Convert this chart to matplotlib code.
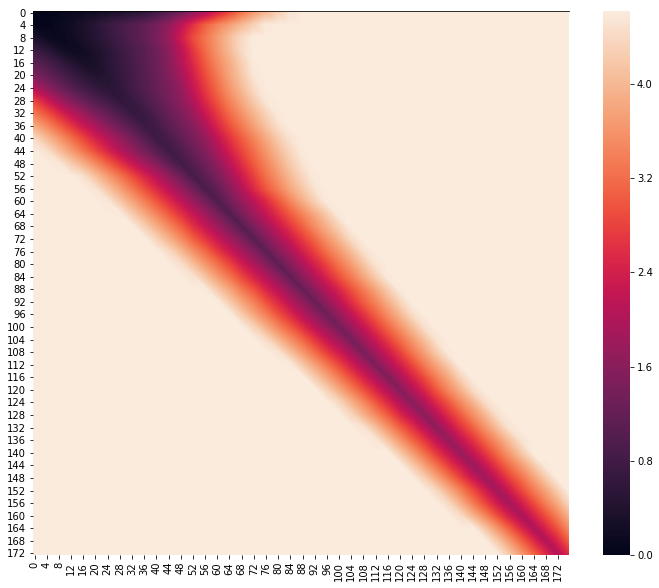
import numpy as np
import matplotlib
matplotlib.use('Agg')
import matplotlib.pyplot as plt
import matplotlib.tri as mtri
from matplotlib.cm import ScalarMappable
from matplotlib.colors import Normalize
import seaborn as sns

# values on a coarse grid: every 4th row, every 4th column
# anything outside a row's listed stretch is saturated
S = 4.62
n_rows = 173
n_cols = 176
row_labels = list(range(0, 173, 4))
col_labels = list(range(0, 173, 4))

# first listed column of each row (in columns)
band_start = [0, 0, 0, 0, 0, 0, 0, 0, 0, 0, 0, 0,
              8, 16, 20, 24, 28, 36, 40, 44, 48, 52, 56, 64, 68, 72, 76, 80, 84, 92,
              96, 100, 104, 108, 112, 120, 124, 128, 132, 136, 140, 148, 152, 156]
# rows 0, 4, 8, ... 172
band_values = [
    [.02, .03, .05, .08, .12, .16, .22, .3, .38, .5, .7, .9, 1.15, 1.5, 1.85, 2.3, 2.7, 3.15, 3.55, 3.9, 4.25, 4.5],
    [.02, .05, .1, .2, .33, .48, .68, .85, 1.0, 1.15, 1.35, 1.65, 2.1, 2.6, 3.05, 3.4, 3.7, 4.0, 4.3, 4.6],
    [.35, .15, .1, .17, .3, .45, .62, .8, .97, 1.15, 1.4, 1.72, 2.3, 2.85, 3.25, 3.65, 4.05, 4.4],
    [.75, .5, .28, .17, .2, .33, .5, .7, .88, 1.07, 1.3, 1.6, 2.1, 2.65, 3.15, 3.6, 4.0, 4.4],
    [1.1, .88, .65, .42, .28, .3, .48, .65, .85, 1.05, 1.27, 1.55, 2.0, 2.5, 3.0, 3.45, 3.85, 4.25, 4.6],
    [1.45, 1.2, .95, .72, .52, .4, .45, .62, .82, 1.02, 1.25, 1.5, 1.85, 2.35, 2.85, 3.3, 3.75, 4.15, 4.55],
    [2.05, 1.6, 1.28, 1.0, .8, .62, .5, .58, .78, .98, 1.2, 1.42, 1.7, 2.2, 2.7, 3.15, 3.6, 4.0, 4.4],
    [2.8, 2.3, 1.85, 1.5, 1.2, .95, .75, .58, .65, .87, 1.1, 1.35, 1.6, 2.0, 2.5, 2.95, 3.4, 3.8, 4.2, 4.55],
    [3.3, 2.9, 2.5, 2.1, 1.75, 1.4, 1.15, .88, .65, .7, .95, 1.2, 1.45, 1.75, 2.25, 2.7, 3.15, 3.55, 3.95, 4.3, 4.6],
    [3.85, 3.45, 3.05, 2.65, 2.25, 1.9, 1.55, 1.25, .97, .72, .78, 1.05, 1.3, 1.55, 1.95, 2.45, 2.9, 3.3, 3.7, 4.1, 4.45],
    [4.4, 4.0, 3.6, 3.2, 2.8, 2.4, 2.05, 1.7, 1.35, 1.03, .74, .85, 1.12, 1.4, 1.7, 2.15, 2.6, 3.0, 3.4, 3.8, 4.2, 4.5],
    [4.62, 4.45, 4.05, 3.65, 3.25, 2.85, 2.45, 2.05, 1.7, 1.35, 1.03, .76, .92, 1.2, 1.5, 1.9, 2.35, 2.8, 3.2, 3.6, 4.0, 4.35, 4.6],
    [4.55, 4.2, 3.85, 3.45, 3.05, 2.65, 2.25, 1.85, 1.5, 1.1, .8, 1.0, 1.3, 1.65, 2.1, 2.55, 3.0, 3.4, 3.8, 4.2, 4.5],
    [4.45, 4.05, 3.65, 3.25, 2.85, 2.45, 2.05, 1.65, 1.25, .84, 1.08, 1.4, 1.8, 2.3, 2.75, 3.2, 3.6, 4.0, 4.35, 4.6],
    [4.5, 4.1, 3.7, 3.3, 2.9, 2.5, 2.1, 1.7, 1.3, .88, 1.15, 1.55, 2.0, 2.5, 2.95, 3.35, 3.8, 4.15, 4.5],
    [4.55, 4.15, 3.75, 3.35, 2.95, 2.55, 2.15, 1.75, 1.35, .92, 1.3, 1.7, 2.1, 2.5, 2.95, 3.4, 3.85, 4.25, 4.6],
    [4.6, 4.2, 3.8, 3.4, 3.0, 2.6, 2.2, 1.8, 1.38, .96, 1.37, 1.78, 2.2, 2.6, 3.0, 3.4, 3.8, 4.2, 4.6],
    [4.25, 3.85, 3.45, 3.05, 2.6, 2.2, 1.8, 1.4, 1.0, 1.42, 1.83, 2.25, 2.65, 3.05, 3.5, 3.9, 4.3],
    [4.3, 3.9, 3.5, 3.05, 2.65, 2.25, 1.85, 1.45, 1.03, 1.45, 1.87, 2.28, 2.7, 3.1, 3.55, 3.95, 4.4],
    [4.4, 4.0, 3.55, 3.15, 2.7, 2.3, 1.9, 1.5, 1.07, 1.5, 1.9, 2.35, 2.75, 3.2, 3.6, 4.0, 4.45],
    [4.45, 4.05, 3.6, 3.2, 2.8, 2.35, 1.95, 1.52, 1.1, 1.53, 1.95, 2.4, 2.8, 3.25, 3.65, 4.1, 4.5],
    [4.5, 4.1, 3.65, 3.25, 2.8, 2.4, 2.0, 1.56, 1.14, 1.58, 2.0, 2.45, 2.9, 3.3, 3.75, 4.2, 4.6],
    [4.6, 4.15, 3.75, 3.3, 2.9, 2.45, 2.05, 1.6, 1.18, 1.6, 2.05, 2.45, 2.9, 3.3, 3.75, 4.2, 4.6],
    [4.2, 3.75, 3.35, 2.9, 2.5, 2.05, 1.65, 1.22, 1.66, 2.1, 2.55, 3.0, 3.4, 3.85, 4.3],
    [4.2, 3.75, 3.35, 2.9, 2.5, 2.05, 1.65, 1.26, 1.7, 2.15, 2.6, 3.05, 3.5, 3.95, 4.4],
    [4.3, 3.85, 3.4, 3.0, 2.55, 2.1, 1.7, 1.3, 1.75, 2.2, 2.65, 3.1, 3.55, 4.0, 4.45],
    [4.4, 3.95, 3.5, 3.1, 2.65, 2.2, 1.8, 1.34, 1.8, 2.25, 2.7, 3.15, 3.6, 4.05, 4.5],
    [4.5, 4.05, 3.6, 3.15, 2.7, 2.3, 1.85, 1.38, 1.85, 2.3, 2.75, 3.25, 3.7, 4.2, 4.6],
    [4.6, 4.15, 3.7, 3.25, 2.8, 2.35, 1.9, 1.42, 1.9, 2.35, 2.8, 3.3, 3.75, 4.2],
    [4.2, 3.75, 3.3, 2.85, 2.4, 1.95, 1.46, 1.93, 2.4, 2.85, 3.35, 3.8, 4.3],
    [4.25, 3.8, 3.35, 2.9, 2.45, 2.0, 1.5, 1.98, 2.45, 2.95, 3.45, 3.9, 4.4],
    [4.35, 3.9, 3.45, 2.95, 2.5, 2.0, 1.54, 2.0, 2.5, 2.95, 3.45, 3.9, 4.4],
    [4.35, 3.9, 3.45, 3.0, 2.5, 2.05, 1.58, 2.05, 2.55, 3.0, 3.5, 3.95, 4.45],
    [4.5, 4.05, 3.55, 3.05, 2.6, 2.1, 1.62, 2.1, 2.6, 3.05, 3.55, 4.05, 4.5],
    [4.55, 4.1, 3.6, 3.1, 2.65, 2.15, 1.66, 2.15, 2.6, 3.1, 3.55, 4.05, 4.5],
    [4.15, 3.65, 3.15, 2.65, 2.2, 1.7, 2.2, 2.65, 3.15, 3.65, 4.15],
    [4.2, 3.7, 3.2, 2.7, 2.25, 1.74, 2.2, 2.7, 3.2, 3.65, 4.15, 4.6],
    [4.25, 3.75, 3.25, 2.75, 2.25, 1.78, 2.25, 2.75, 3.2, 3.7, 4.2],
    [4.35, 3.85, 3.35, 2.85, 2.35, 1.82, 2.3, 2.8, 3.3, 3.75, 4.25],
    [4.35, 3.85, 3.3, 2.8, 2.3, 1.86, 2.35, 2.85, 3.35, 3.85, 4.35],
    [4.4, 3.9, 3.4, 2.85, 2.35, 1.9, 2.4, 2.9, 3.4, 3.9],
    [4.1, 3.55, 3.0, 2.45, 1.94, 2.45, 2.95, 3.5],
    [4.15, 3.6, 3.05, 2.5, 1.98, 2.5, 3.05],
    [4.2, 3.65, 3.1, 2.55, 2.0, 2.5],
]

grid = np.full((len(row_labels), 45), S)
for i, vals in enumerate(band_values):
    j = band_start[i] // 4
    grid[i, j:j + len(vals)] = vals

w, h = 659, 588
fig = plt.figure(figsize=(w / 72, h / 72), dpi=72, facecolor='white')
ax = fig.add_axes([33 / w, 1 - 555 / h, 536 / w, 544 / h])
cax = fig.add_axes([603 / w, 1 - 555 / h, 27 / w, 544 / h])

cmap = sns.color_palette('rocket', as_cmap=True)
norm = Normalize(0, S)

# mesh nodes sit mid cell, the outer ones are pushed out to the axes edges
ys = np.array(row_labels) + 0.5
xs = np.arange(0, 177, 4) + 0.5
ys[0], ys[-1] = 0, n_rows
xs[0], xs[-1] = 0, n_cols
X, Y = np.meshgrid(xs, ys)
# split each quad along the down-right diagonal so the dark ridge stays straight
tris = []
nr, nc = grid.shape
for i in range(nr - 1):
    for j in range(nc - 1):
        a = i * nc + j
        tris.append([a, a + 1, a + nc + 1])
        tris.append([a, a + nc + 1, a + nc])
tri = mtri.Triangulation(X.ravel(), Y.ravel(), tris)
ax.tricontourf(tri, grid.ravel(), levels=np.linspace(0, S + 0.01, 230), cmap=cmap, norm=norm,
               antialiased=False)
ax.set_xlim(0, n_cols)
ax.set_ylim(n_rows, 0)
ax.set_xticks(np.array(col_labels) + 0.5)
ax.set_xticklabels(col_labels, rotation=90)
ax.set_yticks(np.array(row_labels) + 0.5)
ax.set_yticklabels(row_labels, rotation=0)
for side in ['left', 'right', 'bottom']:
    ax.spines[side].set_visible(False)

cb = fig.colorbar(ScalarMappable(norm=norm, cmap=cmap), cax=cax, ticks=[0, 0.8, 1.6, 2.4, 3.2, 4.0])
cb.ax.set_yticklabels(['0.0', '0.8', '1.6', '2.4', '3.2', '4.0'])
cb.outline.set_visible(False)

fig.savefig('out.png', dpi=72, facecolor='white')
